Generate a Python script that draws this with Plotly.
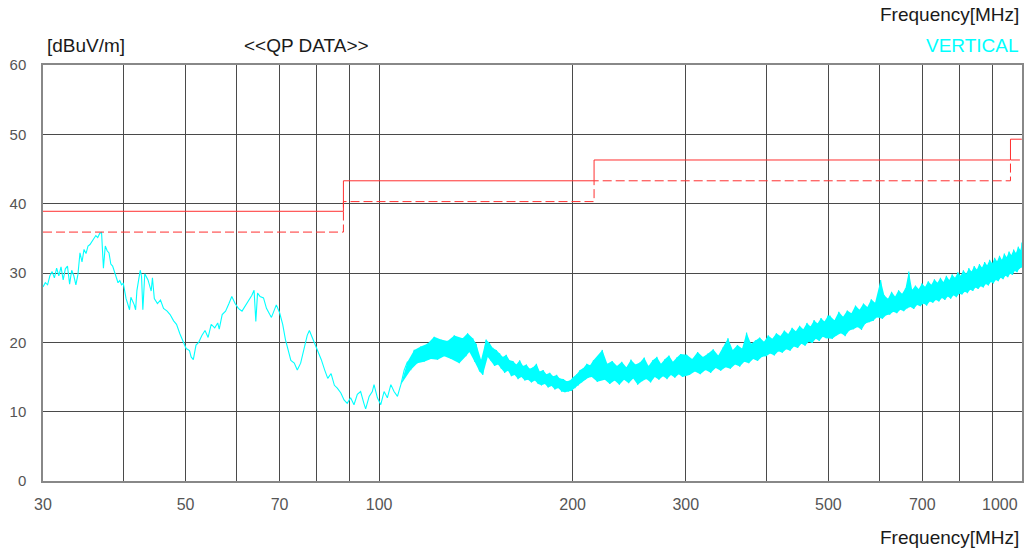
import math
import plotly.graph_objects as go

# ---------------- data ----------------
# measured QP trace, frequency in MHz, level in dBuV/m
freq_a = [30.0, 30.25, 30.5, 30.75, 31.0, 31.25, 31.5, 31.75, 32.0, 32.25,
          32.5, 32.75, 33.0, 33.25, 33.5, 33.75, 34.0, 34.25, 34.5, 34.75,
          35.0, 35.25, 35.5, 35.75, 36.0, 36.25, 36.5, 36.75, 37.0, 37.25,
          37.5, 37.75, 38.0, 38.25, 38.5, 38.75, 39.0, 39.25, 39.5, 39.75, 40.0]
level_a = [28.0, 28.6, 28.3, 29.6, 30.2, 29.3, 30.7, 29.6, 30.9, 29.0,
           30.6, 31.0, 28.4, 30.4, 29.6, 28.3, 29.8, 32.9, 31.6, 33.4,
           32.8, 33.9, 34.1, 34.6, 34.9, 35.4, 35.1, 35.7, 35.9, 30.7,
           33.9, 33.2, 32.9, 31.3, 31.0, 30.1, 29.4, 28.6, 28.9, 28.3, 28.5]

freq_b = [40.4, 40.9, 41.1, 41.6, 41.8, 42.0, 42.5, 42.7, 42.9, 43.2,
          43.7, 44.2, 44.4, 44.7, 45.2, 45.7, 46.2, 46.8, 47.3, 47.9,
          48.4, 49.0, 49.6, 50.1, 50.7, 51.0, 51.4, 51.9, 52.4, 53.0,
          53.6, 54.2, 54.8, 55.5, 56.1, 56.4, 57.0, 57.7, 58.4, 59.0,
          59.7, 60.4, 61.2, 61.9, 62.6, 63.4, 63.9, 64.3, 64.7, 65.3,
          66.1, 66.8, 67.6, 68.0, 68.6, 69.2, 70.0, 70.8, 71.5, 72.1,
          72.9, 73.8]
level_b = [26.3, 24.7, 26.5, 25.4, 24.7, 27.5, 30.4, 29.5, 24.7, 29.9,
           29.0, 27.4, 29.3, 26.3, 25.6, 26.1, 24.9, 24.5, 24.0, 23.1,
           22.6, 21.2, 20.0, 19.1, 18.8, 17.9, 17.5, 19.6, 20.0, 21.0,
           21.7, 20.7, 22.6, 22.1, 22.8, 21.9, 24.0, 24.5, 25.6, 26.6,
           25.6, 24.9, 24.5, 25.2, 25.9, 26.8, 27.5, 23.0, 27.1, 26.6,
           26.4, 24.9, 24.0, 23.6, 24.5, 25.4, 24.3, 22.6, 20.4, 19.1,
           17.4, 17.0]

freq_c = [74.6, 75.5, 76.4, 77.3, 77.9, 78.6, 79.5, 80.4, 81.3, 82.3,
          83.2, 84.2, 85.2, 86.1, 87.2, 88.2, 89.2, 90.3, 91.4, 92.5,
          93.6, 94.7, 95.3, 96.5, 97.6, 98.2, 99.4, 100.6, 101.8, 103.0,
          104.3, 105.5, 106.8]
level_c = [16.0, 17.0, 18.9, 21.0, 21.7, 20.8, 19.9, 18.6, 17.5, 16.0,
           14.8, 15.5, 13.8, 13.4, 12.7, 11.7, 11.2, 12.0, 11.0, 12.5,
           12.9, 11.2, 10.4, 12.2, 12.9, 13.9, 12.0, 11.0, 12.9, 12.0,
           13.9, 12.9, 12.2]

freq_c2 = [108.1, 109.4, 110.7, 112.0, 113.4, 114.7, 116.1, 117.5, 118.9, 120.4,
           121.8, 123.3, 124.8, 126.3, 127.8, 129.4, 130.9, 132.5, 133.3, 134.9,
           136.5, 137.3, 138.2, 139.9, 140.8, 141.6, 143.3, 144.1, 145.0, 145.9,
           146.7, 147.6, 148.5, 149.4, 150.3, 151.2, 152.2, 153.1, 154.0, 154.9,
           155.8, 156.8, 157.7, 158.7, 159.6, 160.6, 161.5, 162.5, 163.5, 164.5,
           165.5, 166.5, 167.5, 168.5, 169.5, 170.5, 171.5, 172.6, 173.6, 174.7,
           175.7, 176.8, 177.8, 178.9, 180.0, 181.1, 182.1, 183.2, 184.3, 185.5,
           186.6, 187.7, 188.9, 190.0, 191.1, 192.3, 193.5, 194.6, 195.8, 196.9,
           198.1, 199.3, 200.5, 201.7, 202.9, 204.1, 205.4, 206.6, 207.9, 209.1,
           210.4, 211.6, 212.9, 214.2, 215.5]
level_c2 = [13.9, 16.0, 17.2, 16.0, 18.9, 17.0, 19.4, 17.2, 19.8, 17.6,
            20.8, 17.5, 20.4, 18.0, 20.2, 17.6, 21.0, 18.3, 17.0, 20.6,
            18.0, 21.3, 18.6, 20.6, 17.2, 19.8, 15.8, 17.5, 15.3, 18.6,
            20.4, 17.9, 19.9, 17.3, 19.2, 16.6, 18.9, 16.8, 18.4, 16.2,
            17.9, 15.6, 18.2, 15.9, 17.4, 15.1, 17.3, 15.3, 16.8, 14.7,
            17.4, 15.0, 16.6, 14.5, 16.8, 14.6, 16.2, 14.2, 16.4, 14.5,
            16.9, 14.0, 15.8, 13.8, 16.0, 14.0, 15.4, 13.5, 15.6, 13.7,
            15.1, 13.2, 15.3, 13.4, 14.8, 12.9, 14.7, 12.8, 14.4, 12.9,
            14.5, 13.0, 15.0, 13.4, 15.4, 13.8, 16.0, 14.2, 16.3, 14.6,
            16.9, 14.9, 16.7, 15.0, 17.4]

freq_d = [216.5, 218.5, 220.5, 222.5, 224.5, 226.5, 228.5, 230.5, 232.5, 234.5,
          236.5, 238.5, 240.5, 242.5, 244.5, 246.5, 248.5, 250.5, 252.5, 254.5,
          256.5, 258.5, 260.5, 262.5, 264.5, 266.5, 268.5, 270.5, 272.5, 274.5,
          276.5, 278.5, 280.5, 282.5, 284.5, 286.5, 288.5, 290.5, 292.5, 294.5,
          296.5, 298.5]
level_d = [17.0, 14.3, 17.6, 18.9, 14.6, 16.9, 14.0, 17.3, 14.5, 16.6,
           13.9, 17.2, 14.6, 16.4, 14.1, 17.5, 14.8, 16.8, 13.9, 17.1,
           14.4, 17.8, 14.7, 16.6, 14.2, 17.4, 15.0, 17.9, 14.6, 16.9,
           15.1, 17.6, 14.7, 18.1, 15.3, 17.2, 14.9, 17.8, 15.4, 18.3,
           15.0, 17.5]

freq_e = [301, 304, 307, 310, 313, 316, 319, 322, 325, 328,
          331, 334, 337, 340, 343, 346, 349, 352, 355, 358,
          361, 364, 367, 370, 373, 376, 379, 382, 385, 388,
          391, 394, 397, 400, 403, 406, 409, 412, 415, 418,
          421, 424, 427, 430, 433, 436, 439, 442, 445, 448,
          451, 454, 457, 460, 463, 466, 469, 472, 475, 478,
          481, 484, 487, 490, 493, 496, 499]
level_e = [18.2, 15.3, 17.6, 15.8, 18.6, 15.4, 17.9, 16.0, 18.4, 15.6,
           19.0, 16.3, 18.1, 15.9, 19.3, 16.4, 20.6, 16.2, 18.9, 16.8,
           19.6, 16.5, 19.1, 17.2, 21.4, 17.0, 19.8, 17.6, 20.3, 17.3,
           20.7, 17.9, 20.1, 18.0, 21.0, 18.4, 20.5, 18.1, 21.3, 18.7,
           20.9, 18.5, 21.7, 19.0, 21.2, 18.8, 22.1, 19.4, 21.6, 19.2,
           22.4, 19.8, 21.9, 19.5, 22.8, 20.1, 22.3, 19.9, 23.2, 20.5,
           22.7, 20.2, 23.5, 20.8, 23.0, 20.6, 23.8]

freq_f = [503, 507, 511, 515, 519, 523, 527, 531, 535, 539,
          543, 547, 551, 555, 559, 563, 567, 571, 575, 579,
          583, 587, 591, 595, 599, 603, 607, 611, 615, 619,
          623, 627, 631, 635, 639, 643, 647, 651, 655, 659,
          663, 667, 671, 675, 679, 683, 687, 691, 695, 699,
          703, 707, 711, 715, 719, 723, 727, 731, 735, 739,
          743, 747, 751, 755, 759, 763, 767, 771, 775, 779,
          783, 787, 791, 795, 799, 803, 807, 811, 815, 819,
          823, 827, 831, 835, 839, 843, 847, 851, 855, 859,
          863, 867, 871, 875, 879, 883, 887, 891, 895, 899,
          903, 907, 911, 915, 919, 923, 927, 931, 935, 939,
          943, 947, 951, 955, 959, 963, 967, 971, 975, 979,
          983, 987, 991, 995, 999, 1000]
level_f = [23.8, 20.5, 23.2, 21.0, 24.4, 21.3, 23.7, 20.9, 24.6, 21.7,
           24.2, 21.9, 25.3, 22.2, 24.7, 21.8, 25.6, 22.7, 25.1, 22.9,
           26.2, 23.1, 25.7, 23.6, 26.4, 29.0, 23.4, 26.8, 23.9, 26.3,
           24.0, 27.3, 24.4, 26.6, 24.2, 27.5, 24.7, 27.0, 24.5, 27.8,
           24.9, 30.2, 25.1, 27.6, 24.8, 28.2, 25.4, 27.7, 25.2, 28.5,
           25.6, 28.0, 25.3, 28.8, 25.9, 28.3, 25.7, 29.1, 26.1, 28.6,
           25.9, 29.3, 26.4, 28.7, 26.1, 29.6, 26.6, 29.0, 26.3, 29.8,
           26.8, 29.3, 26.5, 30.1, 27.0, 29.6, 26.9, 30.4, 27.3, 29.9,
           27.1, 30.7, 27.6, 30.2, 27.4, 31.0, 27.9, 30.5, 27.7, 31.3,
           28.1, 30.8, 27.9, 31.6, 28.4, 31.1, 28.2, 31.9, 28.7, 31.4,
           28.5, 32.2, 29.0, 31.7, 28.8, 32.5, 29.3, 31.9, 29.1, 32.8,
           29.6, 32.3, 29.4, 33.1, 29.9, 32.6, 29.7, 33.4, 30.3, 32.9,
           30.1, 33.8, 30.6, 33.3, 30.8, 34.4]

# limit lines (step functions)
limit_freq = [30, 88, 216, 960, 1000]
limit_qp = [38.9, 43.3, 46.3, 49.3, 49.3]
limit_margin = [35.9, 40.3, 43.3, 46.3, 46.3]

# axis ticks (the last label, 1000, sits right-aligned at the plot edge)
x_tick_vals = [30, 50, 70, 100, 200, 300, 500, 700]
x_tick_text = ["30", "50", "70", "100", "200", "300", "500", "700"]
x_edge_tick = 1000
x_edge_text = "1000"
x_minor_grid = [40, 60, 80, 90, 400, 600, 800, 900]
y_tick_vals = [0, 10, 20, 30, 40, 50, 60]

# ---------------- derived ----------------
freq_all = freq_a + freq_b + freq_c + freq_c2 + freq_d + freq_e + freq_f
level_all = level_a + level_b + level_c + level_c2 + level_d + level_e + level_f
assert len(freq_all) == len(level_all), (len(freq_all), len(level_all))

# noise band (dense sweep region): polygon through local peaks and troughs
band = [(f, v) for f, v in zip(freq_all, level_all) if f >= 108]
up_f, up_v, lo_f, lo_v = [], [], [], []
for i, (f, v) in enumerate(band):
    p = band[i - 1][1] if i > 0 else v
    n = band[i + 1][1] if i < len(band) - 1 else v
    if v >= p and v >= n:
        up_f.append(f); up_v.append(v)
    if v <= p and v <= n:
        lo_f.append(f); lo_v.append(v)
poly_f = up_f + lo_f[::-1]
poly_v = up_v + lo_v[::-1]

RED = "#ff3030"
GRID = "#4a4a4a"
CYAN = "#00ffff"
TICK_FONT = dict(size=16, color="#555", family="Liberation Sans, Arial, sans-serif")

fig = go.Figure()
fig.add_trace(go.Scatter(x=poly_f, y=poly_v, mode="lines", fill="toself",
                         fillcolor=CYAN, line=dict(width=0, color=CYAN),
                         hoverinfo="skip", showlegend=False))
fig.add_trace(go.Scatter(x=freq_all, y=level_all, mode="lines",
                         line=dict(color=CYAN, width=1.1),
                         showlegend=False))
fig.add_trace(go.Scatter(x=limit_freq, y=limit_margin, mode="lines",
                         line=dict(color=RED, width=1, dash="9px,4px", shape="hv"),
                         hoverinfo="skip", showlegend=False))
fig.add_trace(go.Scatter(x=limit_freq, y=limit_qp, mode="lines",
                         line=dict(color=RED, width=1, shape="hv"),
                         hoverinfo="skip", showlegend=False))

fig.update_layout(
    width=1025, height=549,
    margin=dict(l=43, r=3, t=65, b=68, autoexpand=False),
    paper_bgcolor="white", plot_bgcolor="white",
    font=dict(family="Liberation Sans, Arial, sans-serif", color="#222"),
)
fig.update_xaxes(
    type="log", range=[math.log10(30), 3.0002],
    tickmode="array", tickvals=x_tick_vals, ticktext=x_tick_text,
    ticks="", ticklabelstandoff=8,
    tickfont=TICK_FONT,
    showgrid=True, gridcolor=GRID, gridwidth=1,
    minor=dict(tickmode="array", tickvals=x_minor_grid, showgrid=True,
               gridcolor=GRID, gridwidth=1, ticks=""),
    showline=True, linecolor="#888", linewidth=1.5, mirror=True,
    zeroline=False,
)
fig.update_yaxes(
    range=[0, 60], tickmode="array", tickvals=y_tick_vals,
    ticks="", ticklabelstandoff=12,
    tickfont=dict(size=15, color="#555"),
    showgrid=True, gridcolor=GRID, gridwidth=1,
    showline=True, linecolor="#888", linewidth=1.5, mirror=True,
    zeroline=False,
)

# edge tick label placed on the x scale, right-aligned so it stays in view
fig.add_annotation(text=x_edge_text, xref="x", yref="paper",
                   x=math.log10(x_edge_tick), y=-0.0555,
                   xanchor="right", yanchor="middle", xshift=-2,
                   showarrow=False, font=TICK_FONT)

ann_font = dict(size=19, color="#1a1a1a", family="Liberation Sans, Arial, sans-serif")
fig.add_annotation(text="Frequency[MHz]", xref="paper", yref="paper",
                   x=0.999, y=1.121, xanchor="right", yanchor="middle",
                   showarrow=False, font=ann_font)
fig.add_annotation(text="VERTICAL", xref="paper", yref="paper",
                   x=0.999, y=1.046, xanchor="right", yanchor="middle",
                   showarrow=False, font=dict(ann_font, color=CYAN))
fig.add_annotation(text="[dBuV/m]", xref="paper", yref="paper",
                   x=0.002, y=1.046, xanchor="left", yanchor="middle",
                   showarrow=False, font=ann_font)
fig.add_annotation(text="<<QP DATA>>", xref="paper", yref="paper",
                   x=0.2033, y=1.046, xanchor="left", yanchor="middle",
                   showarrow=False, font=ann_font)
fig.add_annotation(text="Frequency[MHz]", xref="paper", yref="paper",
                   x=0.999, y=-0.135, xanchor="right", yanchor="middle",
                   showarrow=False, font=ann_font)

fig.write_html("out.html")
